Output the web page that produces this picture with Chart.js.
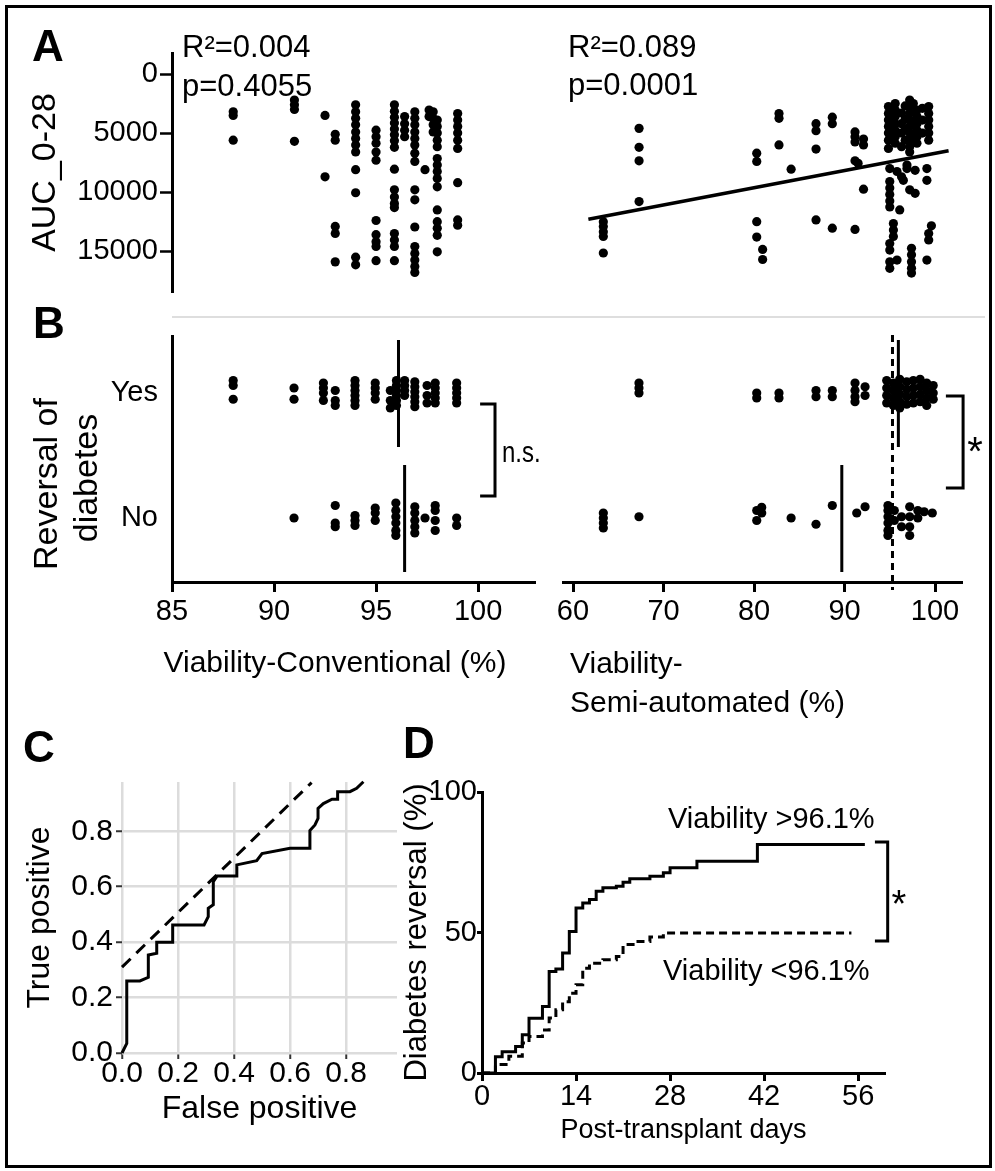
<!DOCTYPE html>
<html><head><meta charset="utf-8">
<script src="https://cdn.jsdelivr.net/npm/chart.js@4.4.1/dist/chart.umd.min.js"></script>
<style>
html,body{margin:0;padding:0;background:#fff;}
#wrap{position:relative;width:995px;height:1171px;overflow:hidden;background:#fff;}
#wrap canvas{position:absolute;left:0;top:0;}
#frame{position:absolute;left:5px;top:5px;width:981px;height:1157px;border:3px solid #000;}
#divider{position:absolute;left:172px;top:316px;width:813px;height:2px;background:#dedede;}
</style></head>
<body><div id="wrap"><div id="frame"></div><div id="divider"></div>
<canvas id="cA1" width="995" height="1171"></canvas>
<canvas id="cA2" width="995" height="1171"></canvas>
<canvas id="cB1" width="995" height="1171"></canvas>
<canvas id="cB2" width="995" height="1171"></canvas>
<canvas id="cC" width="995" height="1171"></canvas>
<canvas id="cD" width="995" height="1171"></canvas>
</div>
<script>
// ================= DATA =================
// Panel A, left: AUC_0-28 vs Viability-Conventional (%)
const aConvX = [88, 91, 92.5, 93, 94, 95, 95.9, 96.4, 96.9, 97.4, 97.6, 97.8, 98, 99];
const aConvY = [
  [3200, 3500, 5600],
  [2200, 2600, 3000, 5700],
  [3500, 8700],
  [5100, 5600, 12900, 13500, 15900],
  [2600, 3200, 3750, 4300, 4900, 5450, 6000, 6600, 8100, 10050, 15500, 16150],
  [4750, 5300, 5850, 6600, 7300, 12400, 13600, 14200, 14600, 15800],
  [2600, 3150, 3650, 4150, 4650, 5150, 5650, 6200, 8050, 9800, 10400, 10950, 11300, 13500, 14050, 14600, 15800],
  [3600, 4200, 4750, 5300],
  [3200, 3750, 4300, 4900, 5450, 6000, 6700, 7400, 9800, 10650, 12950, 14600, 15200, 15750, 16300, 16800],
  [8100],
  [3050, 3600],
  [3200, 3750, 4300, 4900],
  [3900, 4450, 5000, 5600, 6150, 7150, 7700, 8250, 8850, 9550, 11500, 12500, 13050, 13650, 15050],
  [3350, 3900, 4450, 5000, 5600, 6300, 9200, 12350, 12800]
];
// Panel A, right: AUC_0-28 vs Viability-Semi-automated (%)
const aSemiX = [63.35, 67.3, 80.3, 80.95, 82.76, 84.1, 86.85, 88.65, 91.16, 91.5, 92.1, 94.85, 95.0, 95.3, 95.4, 95.6, 95.8, 96.1, 96.3, 96.5, 96.7, 96.9, 97.2, 97.4, 97.6, 97.8, 98.0, 98.6, 99.1, 99.3, 99.6];
const aSemiY = [
  [12500, 12900, 13350, 13750, 15150],
  [4600, 6200, 7350, 10800],
  [6700, 7400, 12500, 13800],
  [14850, 15700],
  [3350, 3750, 6000],
  [8050],
  [4200, 4800, 6350, 12350],
  [3650, 4200, 13050],
  [4900, 5300, 5750, 7350, 13150],
  [7550],
  [5500, 6000, 9750],
  [2750, 3350, 3900, 4450, 5000, 5600, 6300],
  [8000, 9100, 9650, 10200, 10750, 11250, 14350, 14900, 15900, 16450],
  [3600, 5300],
  [12650, 13200, 13750],
  [2500, 3050, 3600, 4200, 4750, 5300, 5850],
  [8250, 15750],
  [11500],
  [3300, 4200, 5000, 6150, 8700],
  [9000],
  [2700, 3800, 4700, 5600],
  [7700, 8000],
  [2200, 2750, 3300, 3900, 4450, 5000, 5600, 6150, 6600, 9800],
  [14750, 15300, 15900, 16450, 16850],
  [2500, 4000, 5300],
  [8150, 10100],
  [3050, 3600, 4200, 4750, 5300, 5850],
  [2900, 3900, 5000],
  [8000, 9000, 15750],
  [2750, 3350, 3900, 4450, 5000, 5600, 13500, 14050],
  [12850]
];
const aSemiFitX = [61.7, 101.5];
const aSemiFitY = [12290, 6490];

// Panel B: reversal of diabetes (Yes = 1, No = 0, with jitter)
const bConvYesX = [88, 90.98, 92.42, 93, 93.97, 94.96, 95.7, 96, 96.4, 96.9, 97.5, 97.9, 98.95];
const bConvYesY = [[1.10,1.06,0.95],[1.04,0.95],[1.08,1.04,1.00,0.94],[1.02,0.94,0.90],[1.10,1.06,1.02,0.98,0.94,0.90],[1.08,1.04,1.00,0.95],[1.02,0.94,0.88],[1.10,1.06,1.02,0.98,0.94,0.90],[1.10,1.06,1.02,0.98],[1.09,1.05,1.01,0.97,0.93,0.89],[1.06,0.98,0.92],[1.08,1.04,1.00,0.96,0.92],[1.08,1.04,1.00,0.96,0.92]];
const bConvNoX = [90.98, 93, 93.97, 94.96, 95.97, 96.9, 97.4, 97.9, 98.95];
const bConvNoY = [[0.00],[0.10,-0.04,-0.07],[0.02,-0.02,-0.06],[0.08,0.04,-0.02],[0.12,0.06,0.01,-0.04,-0.10,-0.14],[0.09,0.04,-0.02,-0.07,-0.12],[0.00],[0.10,0.06,-0.02,-0.10],[0.00,-0.06]];
const bSemiYesX = [67.29, 80.3, 82.76, 86.85, 88.65, 91.16, 92.27, 94.66, 95.4, 96.1, 96.87, 97.6, 98.35, 99.08, 99.8];
const bSemiYesY = [[1.08,1.04,1.00],[1.00,0.96],[1.00,0.96],[1.02,0.97],[1.02,0.97],[1.08,1.02,0.97,0.93],[1.05,0.98],[1.10,1.04,0.98,0.92],[1.08,1.02,0.96,0.90],[1.11,1.05,0.99,0.93,0.88],[1.09,1.03,0.97,0.91],[1.10,1.04,0.98,0.92],[1.11,1.05,0.99,0.93],[1.08,1.02,0.96,0.90],[1.06,1.00,0.95]];
const bSemiNoX = [63.35, 67.29, 80.3, 80.85, 84.1, 86.85, 88.65, 91.35, 92.27, 94.8, 95.5, 96.3, 97.2, 98.1, 98.8, 99.7];
const bSemiNoY = [[0.04,0.00,-0.04,-0.08],[0.01],[0.06,-0.02],[0.085,0.04],[0.00],[-0.05],[0.10],[0.04],[0.09],[0.10,0.06,0.01,-0.04,-0.10,-0.14],[0.06,-0.02],[0.01,-0.07],[0.09,0.01,-0.07,-0.14],[0.06,0.00],[0.05],[0.04]];
const bMedianConv = [96.1, 96.4];   // Yes, No
const bMedianSemi = [95.95, 89.7];  // Yes, No
const bCutoffSemi = 95.3;
const bCatTicks = [0, 1];
const bCatLabels = ['No', 'Yes'];

// Panel C: ROC curve
const rocFpr = [0,0.017,0.017,0.064,0.094,0.094,0.124,0.124,0.181,0.181,0.293,0.308,0.308,0.326,0.326,0.34,0.41,0.41,0.481,0.5,0.6,0.671,0.671,0.689,0.70,0.70,0.719,0.75,0.77,0.77,0.814,0.838,0.862];
const rocTpr = [0,0.035,0.26,0.26,0.273,0.354,0.36,0.40,0.40,0.462,0.462,0.492,0.522,0.535,0.618,0.639,0.639,0.679,0.694,0.72,0.739,0.739,0.803,0.823,0.847,0.883,0.90,0.916,0.916,0.943,0.943,0.955,0.979];
const rocRefFpr = [0, 0.677];
const rocRefTpr = [0.31, 0.976];

// Panel D: Kaplan-Meier style diabetes reversal
const kmHighDays = [0,2,3,5,6,7,9,10,11,12,13,14,15,16,17,18,20,21,22,25,27,28,32,41,57];
const kmHighPct  = [0,5.8,7.6,9.4,13.6,19.5,23.7,36.1,37.0,42.7,50.4,58.7,60.5,61.7,64.7,65.9,66.5,67.9,69.1,70.0,71.3,73.0,75.4,81.3,81.3];
const kmLowDays  = [0,2,4,6,7,9,10,11,12,13,14,15,16,18,20,21,23,25,27,55];
const kmLowPct   = [0,3,6,10.7,13,15.3,19.6,22.5,25.4,28.4,31.4,37.3,39.1,40.3,41.5,45.7,46.8,48.4,49.8,49.8];

// Tick values
const aYTicks = [0, 5000, 10000, 15000];
const convXTicks = [85, 90, 95, 100];
const semiXTicks = [60, 70, 80, 90, 100];
const rocTicks = [0, 0.2, 0.4, 0.6, 0.8];
const kmXTicks = [0, 14, 28, 42, 56];
const kmYTicks = [0, 50, 100];

// Significance brackets (annotation shapes, in data units)
const bracketConvX = [100.1, 100.83, 100.83, 100.1];
const bracketConvY = [0.912, 0.912, 0.176, 0.176];
const bracketSemiX = [101.2, 103.1, 103.1, 101.2];
const bracketSemiY = [0.976, 0.976, 0.24, 0.24];
const bracketKmX = [58.5, 60.4, 60.4, 58.5];
const bracketKmY = [82.2, 82.2, 47.0, 47.0];

// ================= BUILD =================
Chart.defaults.font.family = "'Liberation Sans', Arial, Helvetica, sans-serif";
Chart.defaults.color = '#000';
const W = 995, H = 1171;
const FONT = "'Liberation Sans', Arial, Helvetica, sans-serif";

const groups = (xs, ys) => xs.flatMap((x, i) => ys[i].map(y => ({x, y})));
const zip = (xs, ys) => xs.map((x, i) => ({x, y: ys[i]}));
const vline = (x, y0, y1) => [{x, y: y0}, {x, y: y1}];

function fixSize(sz) {
  return s => {
    if (s.isHorizontal()) s.height = sz; else s.width = sz;
    s.paddingLeft = s.paddingRight = s.paddingTop = s.paddingBottom = 0;
  };
}
const setTicks = vals => s => { s.ticks = vals.map(v => ({value: v})); };
const area = (L, T, R, B, wy, hx) => ({left: L - wy, top: T, right: W - R, bottom: H - B - hx});

const dot = pts => ({data: pts, pointRadius: 4.6, pointHoverRadius: 4.6, pointBackgroundColor: '#000', pointBorderColor: '#000', pointBorderWidth: 0, showLine: false, clip: false});
const line = (pts, extra) => Object.assign({data: pts, showLine: true, borderColor: '#000', borderWidth: 3, pointRadius: 0, fill: false, tension: 0, clip: false}, extra || {});

const textPlugin = {
  id: 'texts',
  afterDraw(chart, args, opts) {
    const ctx = chart.ctx;
    (opts.items || []).forEach(it => {
      ctx.save();
      ctx.font = (it.w || 'normal') + ' ' + it.s + 'px ' + FONT;
      ctx.fillStyle = '#000';
      ctx.textAlign = it.a || 'left';
      ctx.textBaseline = it.b || 'alphabetic';
      ctx.translate(it.x, it.y);
      if (it.r) ctx.rotate(it.r);
      if (it.sx) ctx.scale(it.sx, 1);
      ctx.fillText(it.t, 0, 0);
      ctx.restore();
    });
  }
};

function cfg(pad, scales, datasets, plugins, pluginOpts) {
  return {
    type: 'scatter',
    data: {datasets},
    options: {
      responsive: false, maintainAspectRatio: false, animation: false, devicePixelRatio: 1, events: [],
      layout: {padding: pad, autoPadding: false},
      plugins: Object.assign({legend: {display: false}, tooltip: {enabled: false}}, pluginOpts || {}),
      scales
    },
    plugins: plugins || []
  };
}

const tickGrid = (len, w) => ({display: true, drawOnChartArea: false, drawTicks: true, tickLength: len, tickWidth: w, tickColor: '#000', color: '#000'});
const blackBorder = {display: true, color: '#000', width: 3};
const numCb = v => String(v);

const A_YMIN = -1780, A_YMAX = 18450;
const CONV_MIN = 85, CONV_MAX = 102.79;
const SEMI_MIN = 58.895, SEMI_MAX = 102.98;
const B_YMIN = -0.512, B_YMAX = 1.456;

const texts = [
  {t: 'A', x: 32, y: 61, s: 44, w: 'bold'},
  {t: 'B', x: 33, y: 338, s: 44, w: 'bold'},
  {t: 'C', x: 23, y: 762, s: 44, w: 'bold'},
  {t: 'D', x: 403, y: 758, s: 44, w: 'bold'},
  {t: 'R\u00b2=0.004', x: 182, y: 57, s: 31},
  {t: 'p=0.4055', x: 182, y: 96, s: 31},
  {t: 'R\u00b2=0.089', x: 568, y: 57, s: 31},
  {t: 'p=0.0001', x: 568, y: 95, s: 31},
  {t: 'n.s.', x: 502, y: 462, s: 30, sx: 0.8},
  {t: '*', x: 975, y: 465, s: 40, a: 'center'},
  {t: 'Reversal of', x: 48, y: 484, s: 34, a: 'center', b: 'middle', r: -Math.PI / 2},
  {t: 'diabetes', x: 88, y: 478, s: 34, a: 'center', b: 'middle', r: -Math.PI / 2},
  {t: 'Viability-Conventional (%)', x: 335, y: 672, s: 30, a: 'center'},
  {t: 'Viability-', x: 570, y: 673, s: 30},
  {t: 'Semi-automated (%)', x: 570, y: 712, s: 30},
  {t: 'Viability >96.1%', x: 668, y: 828, s: 29},
  {t: 'Viability <96.1%', x: 663, y: 980, s: 29},
  {t: '*', x: 899, y: 917, s: 38, a: 'center'}
];

// ---- A left
new Chart(document.getElementById('cA1'), cfg(area(172, 53, 535, 292, 150, 0), {
  x: {type: 'linear', min: CONV_MIN, max: CONV_MAX, display: false},
  y: {type: 'linear', reverse: true, min: A_YMIN, max: A_YMAX,
      afterBuildTicks: setTicks(aYTicks), afterFit: fixSize(150),
      grid: tickGrid(12, 2.5), border: blackBorder,
      ticks: {font: {size: 29, lineHeight: 1}, padding: 2, color: '#000', callback: numCb},
      title: {display: true, text: 'AUC_0-28', font: {size: 34}, padding: {top: 3, bottom: 0}, color: '#000'}}
}, [dot(groups(aConvX, aConvY))], [textPlugin], {texts: {items: texts}}));

// ---- A right
new Chart(document.getElementById('cA2'), cfg(area(563, 53, 962, 292, 0, 0), {
  x: {type: 'linear', min: SEMI_MIN, max: SEMI_MAX, display: false},
  y: {type: 'linear', reverse: true, min: A_YMIN, max: A_YMAX, display: false}
}, [dot(groups(aSemiX, aSemiY)), line(zip(aSemiFitX, aSemiFitY), {borderWidth: 3.5})]));

// ---- B left
new Chart(document.getElementById('cB1'), cfg(area(172, 336, 535, 582, 100, 60), {
  x: {type: 'linear', min: CONV_MIN, max: CONV_MAX,
      afterBuildTicks: setTicks(convXTicks), afterFit: fixSize(60),
      grid: tickGrid(10, 3), border: blackBorder,
      ticks: {font: {size: 29, lineHeight: 1}, padding: 5, color: '#000', callback: numCb}},
  y: {type: 'linear', min: B_YMIN, max: B_YMAX,
      afterBuildTicks: setTicks(bCatTicks), afterFit: fixSize(100),
      grid: {display: false, drawTicks: false}, border: blackBorder,
      ticks: {font: {size: 29, lineHeight: 1}, padding: 14, color: '#000', callback: v => bCatLabels[bCatTicks.indexOf(v)]}}
}, [
  dot(groups(bConvYesX, bConvYesY)),
  dot(groups(bConvNoX, bConvNoY)),
  line(vline(bMedianConv[0], 1.424, 0.568)),
  line(vline(bMedianConv[1], 0.424, -0.432)),
  line(zip(bracketConvX, bracketConvY))
]));

// ---- B right
new Chart(document.getElementById('cB2'), cfg(area(563, 336, 962, 582, 0, 60), {
  x: {type: 'linear', min: SEMI_MIN, max: SEMI_MAX,
      afterBuildTicks: setTicks(semiXTicks), afterFit: fixSize(60),
      grid: tickGrid(10, 3), border: blackBorder,
      ticks: {font: {size: 29, lineHeight: 1}, padding: 5, color: '#000', callback: numCb}},
  y: {type: 'linear', min: B_YMIN, max: B_YMAX, display: false}
}, [
  dot(groups(bSemiYesX, bSemiYesY)),
  dot(groups(bSemiNoX, bSemiNoY)),
  line(vline(bMedianSemi[0], 1.424, 0.568)),
  line(vline(bMedianSemi[1], 0.424, -0.432)),
  line(vline(bCutoffSemi, 1.464, -0.576), {borderDash: [7, 5]}),
  line(zip(bracketSemiX, bracketSemiY))
]));

// ---- C ROC
const rocGrid = {display: true, drawOnChartArea: true, drawTicks: true, tickLength: 6, tickWidth: 2, tickColor: '#333', color: '#dcdcdc', lineWidth: 2.5};
new Chart(document.getElementById('cC'), cfg(area(122, 782, 397, 1053, 101, 75), {
  x: {type: 'linear', min: 0, max: 0.982,
      afterBuildTicks: setTicks(rocTicks), afterFit: fixSize(75),
      grid: rocGrid, border: {display: false},
      ticks: {font: {size: 30, lineHeight: 1}, padding: 0, color: '#000', callback: v => v.toFixed(1)},
      title: {display: true, text: 'False positive', font: {size: 32}, padding: {top: 0, bottom: 0}, color: '#000'}},
  y: {type: 'linear', min: 0, max: 0.978,
      afterBuildTicks: setTicks(rocTicks), afterFit: fixSize(101),
      grid: rocGrid, border: {display: false},
      ticks: {font: {size: 30, lineHeight: 1}, padding: 3, color: '#000', callback: v => v.toFixed(1)},
      title: {display: true, text: 'True positive', font: {size: 32}, padding: {top: 0, bottom: 0}, color: '#000'}}
}, [
  line(zip(rocFpr, rocTpr), {borderWidth: 3}),
  line(zip(rocRefFpr, rocRefTpr), {borderWidth: 3, borderDash: [12, 8]})
]));

// ---- D Kaplan-Meier
new Chart(document.getElementById('cD'), cfg(area(482, 792, 885, 1073, 83, 74), {
  x: {type: 'linear', min: 0, max: 60,
      afterBuildTicks: setTicks(kmXTicks), afterFit: fixSize(74),
      grid: tickGrid(8, 3), border: blackBorder,
      ticks: {font: {size: 29, lineHeight: 1}, padding: 1, color: '#000', callback: numCb},
      title: {display: true, text: 'Post-transplant days', font: {size: 27}, padding: {top: 0, bottom: 0}, color: '#000'}},
  y: {type: 'linear', min: 0, max: 100,
      afterBuildTicks: setTicks(kmYTicks), afterFit: fixSize(83),
      grid: tickGrid(5, 3), border: blackBorder,
      ticks: {font: {size: 29, lineHeight: 1}, padding: 0, color: '#000', callback: numCb},
      title: {display: true, text: 'Diabetes reversal (%)', font: {size: 31}, padding: {top: 0, bottom: 0}, color: '#000'}}
}, [
  line(zip(kmHighDays, kmHighPct), {stepped: true, borderWidth: 3}),
  line(zip(kmLowDays, kmLowPct), {stepped: true, borderWidth: 3, borderDash: [8, 5]}),
  line(zip(bracketKmX, bracketKmY))
]));
</script>
</body></html>
